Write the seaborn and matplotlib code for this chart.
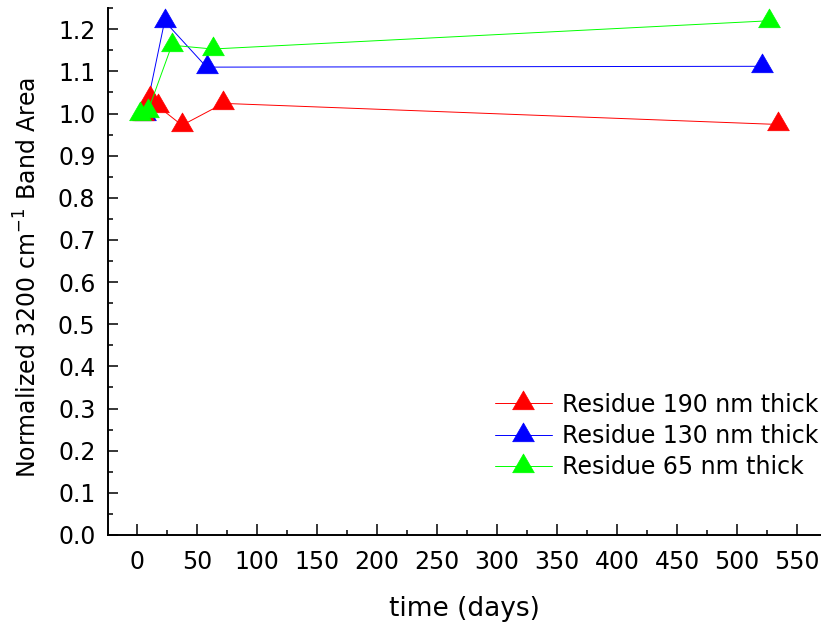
import matplotlib
matplotlib.use("Agg")
import matplotlib.pyplot as plt
from matplotlib.ticker import MultipleLocator
import numpy as np
import pandas as pd
import seaborn as sns

# Normalized 3200 cm-1 band area versus aging time for three residue thicknesses
days_190 = [5, 11, 17.5, 37.5, 72, 534]
area_190 = [1.00, 1.036, 1.017, 0.972, 1.024, 0.974]

days_130 = [7, 23, 58, 521]
area_130 = [1.00, 1.219, 1.110, 1.112]

days_65 = [2.5, 9, 29, 63, 527]
area_65 = [1.000, 1.005, 1.162, 1.153, 1.220]

series_names = ["Residue 190 nm thick", "Residue 130 nm thick", "Residue 65 nm thick"]
series_colors = ["#ff0000", "#0000ff", "#00ff00"]
series_z = [2.2, 2.1, 2.3]

x_ticks = list(range(0, 551, 50))
y_ticks = [round(v, 1) for v in np.arange(0.0, 1.21, 0.1)]

frames = []
for name, d, a in zip(series_names,
                      [days_190, days_130, days_65],
                      [area_190, area_130, area_65]):
    frames.append(pd.DataFrame({"time": d, "area": a, "series": name}))
df = pd.concat(frames, ignore_index=True)

sns.set_style("ticks")
plt.rcParams["font.family"] = ["DejaVu Sans"]
plt.rcParams["text.color"] = "black"
plt.rcParams["axes.labelcolor"] = "black"
plt.rcParams["xtick.color"] = "black"
plt.rcParams["ytick.color"] = "black"

# equilateral triangle centred on its centroid
tri = [(-1.0, -0.577), (1.0, -0.577), (0.0, 1.155), (-1.0, -0.577)]

fig = plt.figure(figsize=(8.21, 6.25), dpi=100)
ax = fig.add_axes([0.1315, 0.144, 0.8685, 0.843])

for name, color, z in zip(series_names, series_colors, series_z):
    sub = df[df["series"] == name]
    sns.lineplot(data=sub, x="time", y="area", ax=ax, sort=False,
                 color=color, linewidth=0.7, marker=tri, markersize=18,
                 markeredgecolor=color, markerfacecolor=color,
                 markeredgewidth=0.5, label=name, estimator=None, zorder=z)

ax.set_xlim(-24.2, 570)
ax.set_ylim(0.0, 1.25)
ax.set_xticks(x_ticks)
ax.set_yticks(y_ticks)
ax.set_yticklabels([f"{v:.1f}" for v in y_ticks])
ax.xaxis.set_minor_locator(MultipleLocator(25))
ax.yaxis.set_minor_locator(MultipleLocator(0.05))

ax.tick_params(which="both", direction="in", width=1.1, colors="black",
               labelsize=17)
ax.tick_params(axis="x", which="major", length=8, pad=11)
ax.tick_params(axis="x", which="minor", length=3.5)
ax.tick_params(axis="y", which="major", length=7, pad=9)
ax.tick_params(axis="y", which="minor", length=3.5)

for side in ("top", "right"):
    ax.spines[side].set_visible(False)
for side in ("left", "bottom"):
    ax.spines[side].set_linewidth(1.4)
    ax.spines[side].set_color("black")

ax.set_xlabel("time (days)", fontsize=19, labelpad=16)
ax.set_ylabel("Normalized 3200 cm$^{-1}$ Band Area", fontsize=17)
ax.yaxis.set_label_coords(-0.093, 0.488)

leg = ax.legend(loc="upper left", bbox_to_anchor=(0.543, 0.27),
                frameon=False, fontsize=17, handlelength=2.4,
                handletextpad=0.42, labelspacing=0.31,
                borderpad=0, borderaxespad=0)

fig.savefig("out.png", dpi=100)
